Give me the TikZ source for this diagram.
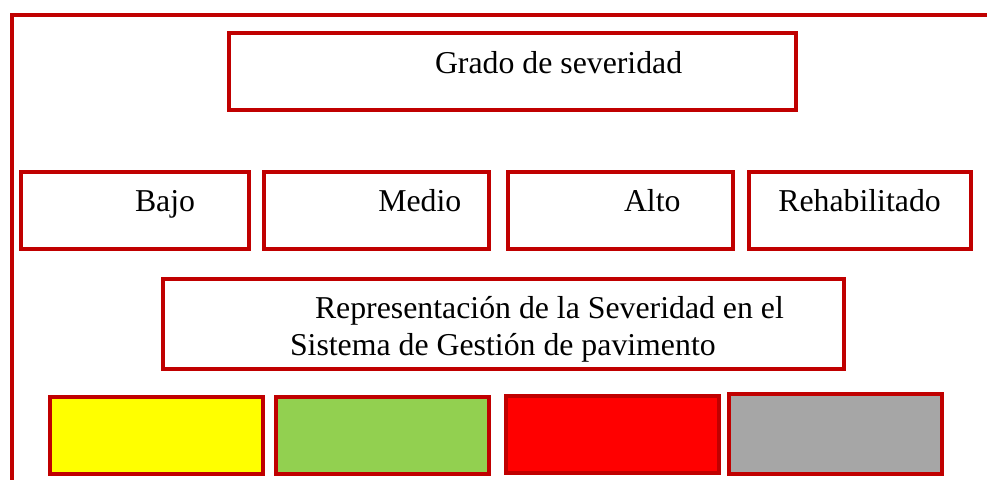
\documentclass[tikz,border=0pt]{standalone}
\usepackage{fontspec}
\setmainfont{Liberation Serif}
\definecolor{frame}{HTML}{C00000}
\definecolor{cyellow}{HTML}{FFFF00}
\definecolor{cgreen}{HTML}{92D050}
\definecolor{cred}{HTML}{FF0000}
\definecolor{cgray}{HTML}{A6A6A6}
\tikzset{
  box/.style={draw=frame, line width=4pt, rectangle, inner sep=0pt, outer sep=0pt},
  txt/.style={anchor=base west, inner sep=0pt, outer sep=0pt, font=\fontsize{31.8}{36.7}\selectfont, text=black},
}
\begin{document}
\begin{tikzpicture}[x=1pt,y=-1pt]
\useasboundingbox (0,0) rectangle (987,480);
% outer frame (top and left only)
\coordinate (fTR) at (987,14.5);
\coordinate (fTL) at (11.5,14.5);
\coordinate (fBL) at (11.5,480);
\draw[draw=frame, line width=4pt] (fTR) -- (fTL) -- (fBL);
% top box
\node[box, minimum width=567pt, minimum height=77.5pt] (grado) at (512,71.25) {};
\node[txt] (tgrado) at (435,73.3) {Grado de severidad};
% middle row
\node[box, minimum width=228pt, minimum height=77pt] (bajo) at (134.5,210.5) {};
\node[box, minimum width=224.5pt, minimum height=77pt] (medio) at (376.25,210.5) {};
\node[box, minimum width=225pt, minimum height=77pt] (alto) at (620.5,210.5) {};
\node[box, minimum width=222pt, minimum height=77pt] (rehab) at (859.5,210.5) {};
\node[txt] (tbajo) at (135,211.7) {Bajo};
\node[txt] (tmedio) at (378.3,211.7) {Medio};
\node[txt] (talto) at (624,211.7) {Alto};
\node[txt] (trehab) at (778.3,211.7) {Rehabilitado};
% representation box
\node[box, minimum width=681pt, minimum height=90.5pt] (repr) at (503,323.75) {};
\node[txt] (trepA) at (315,318.3) {Representación de la Severidad en el};
\node[txt] (trepB) at (290,355) {Sistema de Gestión de pavimento};
% colour swatches
\node[box, fill=cyellow, minimum width=213.5pt, minimum height=77pt] (sy) at (156.25,435.5) {};
\node[box, fill=cgreen, minimum width=213.5pt, minimum height=77pt] (sg) at (382.25,435.5) {};
\node[box, fill=cred, minimum width=213.5pt, minimum height=77pt] (sr) at (612.25,434) {};
\node[box, fill=cgray, minimum width=213.5pt, minimum height=80.5pt] (sk) at (835.25,433.75) {};
\end{tikzpicture}
\end{document}
